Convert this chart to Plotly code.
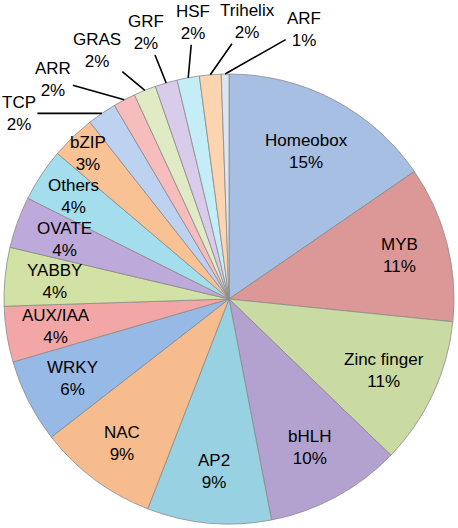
import math
import plotly.graph_objects as go

# ============================
# DADOS
# ============================

families = [
    "Homeobox", "MYB", "Zinc finger", "bHLH", "AP2", "NAC", "WRKY",
    "AUX/IAA", "YABBY", "OVATE", "Others", "bZIP", "TCP", "ARR",
    "GRAS", "GRF", "HSF", "Trihelix", "ARF",
]
shares = [
    15.4, 11.2, 10.6, 9.75, 8.9, 8.6, 6.0,
    4.0, 4.2, 3.7, 3.8, 3.2, 2.1, 1.6,
    1.6, 1.6, 1.6, 1.55, 0.55,
]
outside = ["TCP", "ARR", "GRAS", "GRF", "HSF", "Trihelix", "ARF"]

# ============================
# ESTILO
# ============================

colors = [
    "#A6BFE3", "#DC9896", "#C9DBA2", "#B3A2CF", "#98D2E2", "#F6BC8D",
    "#97B9E6", "#F2A7A6", "#D2E2A4", "#BEAADA", "#A4DDEC", "#F9C295",
    "#BDD2F0", "#F7BDBC", "#E0EBC6", "#D9CCEB", "#C4EDF7", "#FCD4B0",
    "#DCE6F4",
]
label_r = {"Homeobox": 0.74, "Zinc finger": 0.76, "bHLH": 0.75, "AP2": 0.77,
           "NAC": 0.80, "Others": 0.83, "bZIP": 0.90}
label_offset = {"TCP": (-83, 0), "ARR": (-71, -20), "GRAS": (-48, -40),
                "GRF": (-20, -50), "HSF": (5, -55), "Trihelix": (37, -53),
                "ARF": (79, -45)}

W, H = 458, 528
cx, cy, R = 229, 299, 225
cx_p, cy_p = cx / W, 1 - cy / H
rx, ry = R / W, R / H

font = dict(family="Arial, Liberation Sans, sans-serif", size=17, color="black")

fig = go.Figure(go.Pie(
    labels=families,
    values=shares,
    sort=False,
    direction="clockwise",
    rotation=0,
    textinfo="none",
    marker=dict(colors=colors, line=dict(color="#8A8A8A", width=0.8)),
    domain=dict(x=[cx_p - rx, cx_p + rx], y=[cy_p - ry, cy_p + ry]),
    showlegend=False,
))

# ============================
# RÓTULOS
# ============================

total = sum(shares)
cum = 0
for name, v in zip(families, shares):
    mid = (cum + v / 2) / total * 2 * math.pi
    cum += v
    text = f"{name}<br>{v / total * 100:.0f}%"
    if name in outside:
        ax, ay = label_offset[name]
        fig.add_annotation(
            x=cx_p + rx * math.sin(mid), y=cy_p + ry * math.cos(mid),
            xref="paper", yref="paper", text=text, font=font,
            showarrow=True, arrowhead=0, arrowwidth=1.6, arrowcolor="black",
            ax=ax, ay=ay, standoff=0,
        )
    else:
        r = label_r.get(name, 0.78)
        fig.add_annotation(
            x=cx_p + r * rx * math.sin(mid), y=cy_p + r * ry * math.cos(mid),
            xref="paper", yref="paper", text=text, font=font,
            xanchor="center", yanchor="middle",
            showarrow=False,
        )

fig.update_layout(
    width=W, height=H,
    margin=dict(l=0, r=0, t=0, b=0),
    paper_bgcolor="white",
    plot_bgcolor="white",
)

fig.write_html(
    "out.html",
    config={"displayModeBar": False},
    post_script="document.body.style.margin='0';document.body.style.overflow='hidden';",
)
